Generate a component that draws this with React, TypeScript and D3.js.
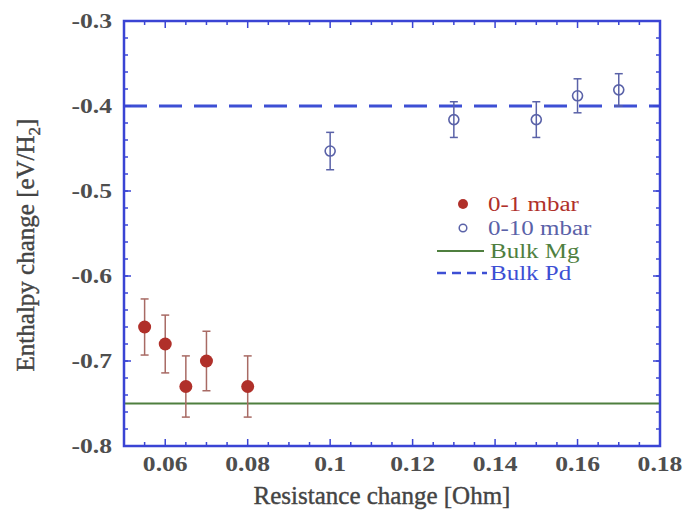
import React from "react";
import * as d3 from "d3";

const redX = [0.055, 0.06, 0.065, 0.07, 0.08];
const redY = [-0.66, -0.68, -0.73, -0.70, -0.73];
const redErr = [0.033, 0.034, 0.036, 0.035, 0.036];

const blueX = [0.1, 0.13, 0.15, 0.16, 0.17];
const blueY = [-0.453, -0.416, -0.416, -0.388, -0.381];
const blueErr = [0.022, 0.021, 0.021, 0.02, 0.019];

const bulkMg = -0.75;
const bulkPd = -0.4;

const xTicks = [0.06, 0.08, 0.1, 0.12, 0.14, 0.16, 0.18];
const yTicks = [-0.3, -0.4, -0.5, -0.6, -0.7, -0.8];

const legendLabels = ["0-1 mbar", "0-10 mbar", "Bulk Mg", "Bulk Pd"];

const W = 683, H = 522;
const L = 124, R = 660, T = 21, B = 446;

const FRAME = "#3a44d4";
const RED = "#b0302a";
const REDBAR = "#a86a64";
const BLUE = "#5a62a8";
const GREEN = "#4f7f3f";
const PD = "#3d4fd4";
const FONT = "\"Liberation Serif\", \"DejaVu Serif\", Tinos, \"Times New Roman\", serif";

export default function App() {
  const x = d3.scaleLinear().domain([0.05, 0.18]).range([L, R]);
  const y = d3.scaleLinear().domain([-0.8, -0.3]).range([B, T]);

  const xMinor = d3.range(0, 27).map((i) => 0.05 + i * 0.005).filter((v) => v > 0.0501 && v < 0.1799);
  const yMinor = d3.range(0, 26).map((i) => -0.8 + i * 0.02).filter((v) => v > -0.799 && v < -0.301);
  const isMajorX = (v: number) => xTicks.some((t) => Math.abs(t - v) < 1e-6);

  const cap = 4;
  const legX = 437, legY = [204, 228, 251, 273];
  const ff = { fontFamily: FONT };

  return (
    <svg width={W} height={H} style={{ display: "block", position: "absolute", left: 0, top: 0, fontFamily: FONT }}>
      <rect x={0} y={0} width={W} height={H} fill="#fff" />
      {/* reference lines */}
      <line x1={L} x2={R} y1={y(bulkMg)} y2={y(bulkMg)} stroke={GREEN} strokeWidth={2} />
      <line x1={L} x2={R} y1={y(bulkPd)} y2={y(bulkPd)} stroke={PD} strokeWidth={3} strokeDasharray="23 12" />

      {/* ticks */}
      {xMinor.map((v, i) => {
        const len = isMajorX(v) ? 7 : 4;
        return (
          <g key={"xt" + i} stroke={FRAME} strokeWidth={1.5}>
            <line x1={x(v)} x2={x(v)} y1={B} y2={B - len} />
            <line x1={x(v)} x2={x(v)} y1={T} y2={T + len} />
          </g>
        );
      })}
      {yMinor.map((v, i) => (
        <g key={"yt" + i} stroke={FRAME} strokeWidth={1.5}>
          <line x1={L} x2={L + 4} y1={y(v)} y2={y(v)} />
          <line x1={R} x2={R - 4} y1={y(v)} y2={y(v)} />
        </g>
      ))}
      {yTicks.slice(1, -1).map((v, i) => (
        <g key={"ym" + i} stroke={FRAME} strokeWidth={1.5}>
          <line x1={L} x2={L + 7} y1={y(v)} y2={y(v)} />
          <line x1={R} x2={R - 7} y1={y(v)} y2={y(v)} />
        </g>
      ))}
      <rect x={L} y={T} width={R - L} height={B - T} fill="none" stroke={FRAME} strokeWidth={2.5} />

      {/* tick labels */}
      {xTicks.map((v, i) => (
        <text key={"xl" + i} transform={`translate(${x(v)}, ${B + 25}) scale(1.22, 1)`} textAnchor="middle" style={ff} fontSize={21} fontWeight="bold" fill="#4e4e4e">
          {String(v)}
        </text>
      ))}
      {yTicks.map((v, i) => (
        <text key={"yl" + i} transform={`translate(${L - 12}, ${y(v) + 7}) scale(1.22, 1)`} textAnchor="end" style={ff} fontSize={21} fontWeight="bold" fill="#4e4e4e">
          {v.toFixed(1)}
        </text>
      ))}

      {/* axis titles */}
      <text x={382} y={504} textAnchor="middle" style={ff} fontSize={25} fill="#444" stroke="#444" strokeWidth={0.4}>
        Resistance change [Ohm]
      </text>
      <text transform={`translate(34, ${245}) rotate(-90)`} textAnchor="middle" style={ff} fontSize={25} fill="#444" stroke="#444" strokeWidth={0.4}>
        Enthalpy change [eV/H<tspan dy={6} fontSize={17}>2</tspan><tspan dy={-6}>]</tspan>
      </text>

      {/* red series */}
      {redX.map((v, i) => (
        <g key={"r" + i}>
          <line x1={x(v)} x2={x(v)} y1={y(redY[i] - redErr[i])} y2={y(redY[i] + redErr[i])} stroke={REDBAR} strokeWidth={1.5} />
          <line x1={x(v) - cap} x2={x(v) + cap} y1={y(redY[i] - redErr[i])} y2={y(redY[i] - redErr[i])} stroke={REDBAR} strokeWidth={1.5} />
          <line x1={x(v) - cap} x2={x(v) + cap} y1={y(redY[i] + redErr[i])} y2={y(redY[i] + redErr[i])} stroke={REDBAR} strokeWidth={1.5} />
          <circle cx={x(v)} cy={y(redY[i])} r={6.5} fill={RED} />
        </g>
      ))}

      {/* blue series */}
      {blueX.map((v, i) => (
        <g key={"b" + i}>
          <line x1={x(v)} x2={x(v)} y1={y(blueY[i] - blueErr[i])} y2={y(blueY[i] + blueErr[i])} stroke={BLUE} strokeWidth={1.5} />
          <line x1={x(v) - cap} x2={x(v) + cap} y1={y(blueY[i] - blueErr[i])} y2={y(blueY[i] - blueErr[i])} stroke={BLUE} strokeWidth={1.5} />
          <line x1={x(v) - cap} x2={x(v) + cap} y1={y(blueY[i] + blueErr[i])} y2={y(blueY[i] + blueErr[i])} stroke={BLUE} strokeWidth={1.5} />
          <circle cx={x(v)} cy={y(blueY[i])} r={5} fill="none" stroke={BLUE} strokeWidth={1.6} />
        </g>
      ))}

      {/* legend */}
      <circle cx={463} cy={legY[0]} r={5} fill={RED} />
      <circle cx={463} cy={legY[1]} r={3.8} fill="none" stroke={BLUE} strokeWidth={1.5} />
      <line x1={legX} x2={legX + 47} y1={legY[2]} y2={legY[2]} stroke={GREEN} strokeWidth={2} />
      <line x1={legX} x2={legX + 50} y1={legY[3]} y2={legY[3]} stroke={PD} strokeWidth={2.5} strokeDasharray="9 6" />
      {legendLabels.map((t, i) => (
        <text key={"lg" + i} transform={`translate(${i < 2 ? 488 : 490}, ${legY[i] + 7}) scale(1.25, 1)`} style={ff} fontSize={20}
          fill={[RED, BLUE, GREEN, PD][i]}>
          {t}
        </text>
      ))}
    </svg>
  );
}
